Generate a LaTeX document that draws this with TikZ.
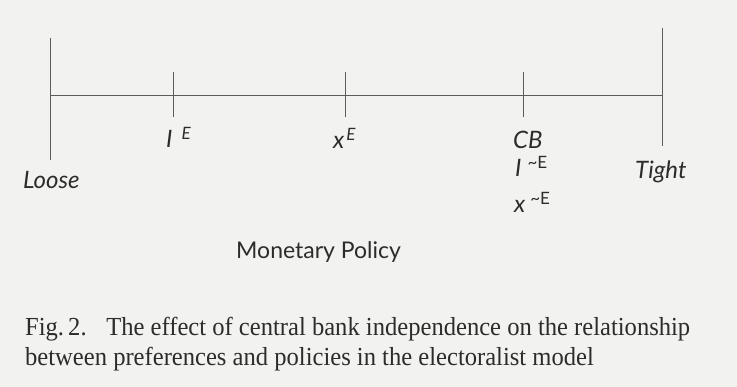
\documentclass[tikz,border=0pt]{standalone}
\usepackage{fontspec}
\setmainfont{Liberation Serif}
\setsansfont{Lato}
\definecolor{paper}{HTML}{F2F2F0}
\definecolor{ink}{HTML}{5C5C5C}
\definecolor{txt}{HTML}{2C2C2C}
\newlength\capw
\newcommand\capfont{\rmfamily\fontsize{26}{30}\selectfont}
\newcommand\lineone{Fig.\,2.\hspace{0.8em}The effect of central bank independence on the relationship}
\newcommand\linetwo{between preferences and policies in the electoralist model}
\newcommand\supx[1]{\raisebox{8pt}{\fontsize{17}{17}\selectfont #1}}
\begin{document}
\settowidth\capw{\capfont\lineone}%
\pgfmathsetmacro\capsx{665/(\capw)}%
\begin{tikzpicture}[x=1pt,y=-1pt,
  axis/.style={draw=ink,line width=0.8pt},
  lab/.style={anchor=base west,inner sep=0pt,text=txt,font=\sffamily\itshape\fontsize{24}{26}\selectfont},
  mptitle/.style={anchor=base west,inner sep=0pt,text=txt,font=\sffamily\fontsize{23}{26}\selectfont},
  captext/.style={anchor=base west,inner sep=0pt,text=txt,font=\capfont}]
\fill[paper] (0,0) rectangle (737,387);
\useasboundingbox (0,0) rectangle (737,387);
% axis
\coordinate (L) at (50,95);
\coordinate (R) at (662,95);
\coordinate (Ltop) at (50,38);
\coordinate (Lbot) at (50,160);
\coordinate (Rtop) at (662,28);
\coordinate (Rbot) at (662,146);
\coordinate (t1a) at (173,72);
\coordinate (t1b) at (173,117);
\coordinate (t2a) at (345,72);
\coordinate (t2b) at (345,117);
\coordinate (t3a) at (523,72);
\coordinate (t3b) at (523,117);
\draw[axis] (L) -- (R);
\draw[axis] (Ltop) -- (Lbot);
\draw[axis] (Rtop) -- (Rbot);
\draw[axis] (t1a) -- (t1b);
\draw[axis] (t2a) -- (t2b);
\draw[axis] (t3a) -- (t3b);
% labels
\node[lab] (loose) at (23,189) {Loose};
\node[lab] (tight) at (635,179) {Tight};
\node[lab] (ie) at (166,148) {I\hspace{9pt}\supx{E}};
\node[lab] (xe) at (333,149) {x\hspace{2pt}\supx{E}};
\node[lab] (cb) at (513,149) {CB};
\node[lab] (ine) at (515,177) {I\hspace{6pt}\supx{\upshape\textasciitilde E}};
\node[lab] (xne) at (514,213) {x\hspace{5pt}\supx{\upshape\textasciitilde E}};
\node[mptitle] (mp) at (236,259) {Monetary Policy};
% caption
\node[captext] (c1) at (25,336) {\scalebox{\capsx}[1]{\lineone}};
\node[captext] (c2) at (25,366) {\scalebox{\capsx}[1]{\linetwo}};
\end{tikzpicture}
\end{document}
